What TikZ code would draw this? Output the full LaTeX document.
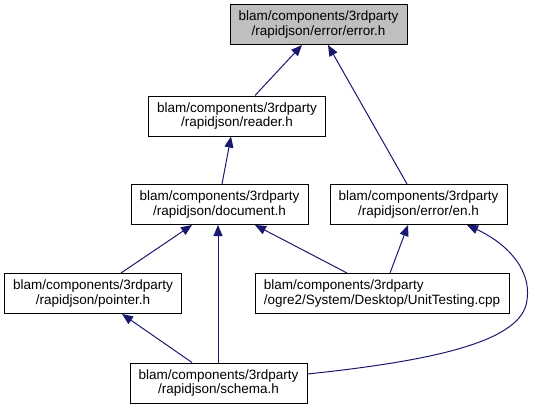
\documentclass[tikz,border=0pt]{standalone}
\usepackage{fontspec}
\setmainfont{Liberation Sans}
\usetikzlibrary{arrows.meta}
\definecolor{edgeblue}{HTML}{191970}
\definecolor{hlgray}{HTML}{BFBFBF}
\begin{document}
\begin{tikzpicture}[x=1pt,y=-1pt,
  filebox/.style={draw=black, line width=1pt, fill=white, minimum height=40pt, minimum width=177pt,
    inner sep=0pt, align=center, font=\fontsize{13.5}{14.5}\selectfont},
  dep/.style={draw=edgeblue, line width=1pt, -{Triangle[length=11pt,width=9pt]}, shorten >=0pt}
]
\useasboundingbox (0,0) rectangle (534,409);
\node[filebox, fill=hlgray] (err) at (318.5,24.5) {blam/components/3rdparty\\/rapidjson/error/error.h};
\node[filebox] (reader) at (237,116) {blam/components/3rdparty\\/rapidjson/reader.h};
\node[filebox] (doc) at (219.5,204.5) {blam/components/3rdparty\\/rapidjson/document.h};
\node[filebox] (en) at (418.5,204.5) {blam/components/3rdparty\\/rapidjson/error/en.h};
\node[filebox] (ptr) at (93,293.5) {blam/components/3rdparty\\/rapidjson/pointer.h};
\node[filebox, minimum width=254pt, align=left] (unit) at (382,293.5) {blam/components/3rdparty\\/ogre2/System/Desktop/UnitTesting.cpp};
\node[filebox] (schema) at (218.5,383) {blam/components/3rdparty\\/rapidjson/schema.h};

\draw[dep] ([xshift=18pt]reader.north) -- ([xshift=-16.5pt]err.south);
\draw[dep] ([xshift=-11.5pt]en.north) -- ([xshift=9.5pt]err.south);
\draw[dep] ([xshift=2.5pt]doc.north) -- ([xshift=-6pt]reader.south);
\draw[dep] ([xshift=28pt]ptr.north) -- ([xshift=-27.5pt]doc.south);
\draw[dep] ([xshift=-0.5pt]schema.north) -- ([xshift=-1.5pt]doc.south);
\draw[dep] ([xshift=-35pt]unit.north) -- ([xshift=35.5pt]doc.south);
\draw[dep] ([xshift=8pt]unit.north) -- ([xshift=-10.5pt]en.south);
\draw[dep] ([yshift=9pt]schema.east) .. controls +(133,-14) and +(-4,40) .. (527,300)
   .. controls +(5,-35) and +(33,15) .. ([xshift=48.5pt]en.south);
\draw[dep] ([xshift=-26.5pt]schema.north) -- ([xshift=29pt]ptr.south);
\end{tikzpicture}
\end{document}
